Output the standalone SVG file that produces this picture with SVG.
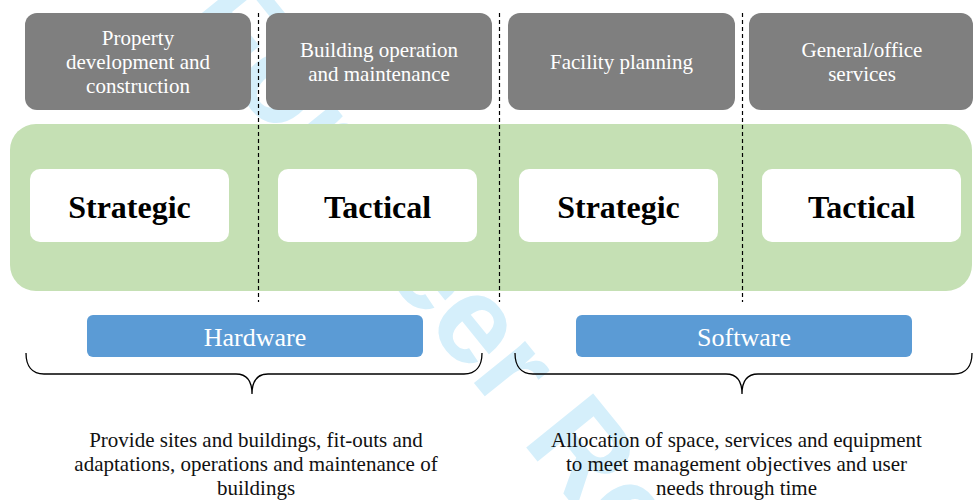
<svg xmlns="http://www.w3.org/2000/svg" width="973" height="500" viewBox="0 0 973 500">
<style>
.gray{fill:#7f7f7f}
.white{fill:#ffffff}
.blue{fill:#5b9bd5}
.band{fill:#c5e0b4}
.gt{font-family:"Liberation Serif","Times New Roman",serif;font-size:21px;fill:#ffffff;text-anchor:middle}
.bt{font-family:"Liberation Serif","Times New Roman",serif;font-size:32px;font-weight:bold;fill:#000000;text-anchor:middle}
.ht{font-family:"Liberation Serif","Times New Roman",serif;font-size:26px;fill:#ffffff;text-anchor:middle}
.dt{font-family:"Liberation Serif","Times New Roman",serif;font-size:21px;fill:#111111;text-anchor:middle}
.dash{stroke:#000;stroke-width:1.2;stroke-dasharray:4 3;fill:none}
.brace{stroke:#000;stroke-width:1.3;fill:none}
.wm{font-family:"Liberation Sans",Arial,sans-serif;font-weight:bold;font-size:125px;fill:#d5effb}
</style>
<text class="wm" transform="translate(180,20) rotate(51)">For Peer Review</text>
<g id="band"><rect class="band" x="10" y="124" width="962" height="167" rx="26"/></g>
<g id="node-property">
<rect class="gray" x="25" y="13" width="226" height="97" rx="12"/>
<text class="gt" x="138" y="45">Property</text>
<text class="gt" x="138" y="69">development and</text>
<text class="gt" x="138" y="93">construction</text>
</g>
<g id="node-building">
<rect class="gray" x="266" y="13" width="226" height="97" rx="12"/>
<text class="gt" x="379" y="57">Building operation</text>
<text class="gt" x="379" y="81">and maintenance</text>
</g>
<g id="node-facility">
<rect class="gray" x="508" y="13" width="227" height="97" rx="12"/>
<text class="gt" x="621.5" y="69">Facility planning</text>
</g>
<g id="node-general">
<rect class="gray" x="749" y="13" width="224" height="97" rx="12"/>
<text class="gt" x="862" y="57">General/office</text>
<text class="gt" x="862" y="81">services</text>
</g>
<g id="node-strategic1">
<rect class="white" x="30" y="169" width="199" height="73" rx="10"/>
<text class="bt" x="129.5" y="218">Strategic</text>
</g>
<g id="node-tactical1">
<rect class="white" x="278" y="169" width="199" height="73" rx="10"/>
<text class="bt" x="377.5" y="218">Tactical</text>
</g>
<g id="node-strategic2">
<rect class="white" x="519" y="169" width="199" height="73" rx="10"/>
<text class="bt" x="618.5" y="218">Strategic</text>
</g>
<g id="node-tactical2">
<rect class="white" x="762" y="169" width="199" height="73" rx="10"/>
<text class="bt" x="861.5" y="218">Tactical</text>
</g>
<g id="node-hardware">
<rect class="blue" x="87" y="315" width="336" height="42" rx="6"/>
<text class="ht" x="255" y="346">Hardware</text>
</g>
<g id="node-software">
<rect class="blue" x="576" y="315" width="336" height="42" rx="6"/>
<text class="ht" x="744" y="346">Software</text>
</g>
<g id="connectors">
<line class="dash" x1="258.5" y1="13" x2="258.5" y2="302"/>
<line class="dash" x1="499.5" y1="13" x2="499.5" y2="302"/>
<line class="dash" x1="742.5" y1="13" x2="742.5" y2="302"/>
<path class="brace" d="M26,353 C26,366 32,374 44,374 L236,374 C246,374 252,380 252,394 C252,380 258,374 268,374 L464,374 C476,374 482,366 482,353"/>
<path class="brace" d="M515,353 C515,366 521,374 533,374 L726,374 C736,374 742,380 742,394 C742,380 748,374 758,374 L954,374 C966,374 972,366 972,353"/>
</g>
<g id="node-desc-hardware">
<text class="dt" x="256" y="447">Provide sites and buildings, fit-outs and</text>
<text class="dt" x="256" y="471">adaptations, operations and maintenance of</text>
<text class="dt" x="256" y="495">buildings</text>
</g>
<g id="node-desc-software">
<text class="dt" x="736.5" y="447">Allocation of space, services and equipment</text>
<text class="dt" x="736.5" y="471">to meet management objectives and user</text>
<text class="dt" x="736.5" y="495">needs through time</text>
</g>
</svg>
